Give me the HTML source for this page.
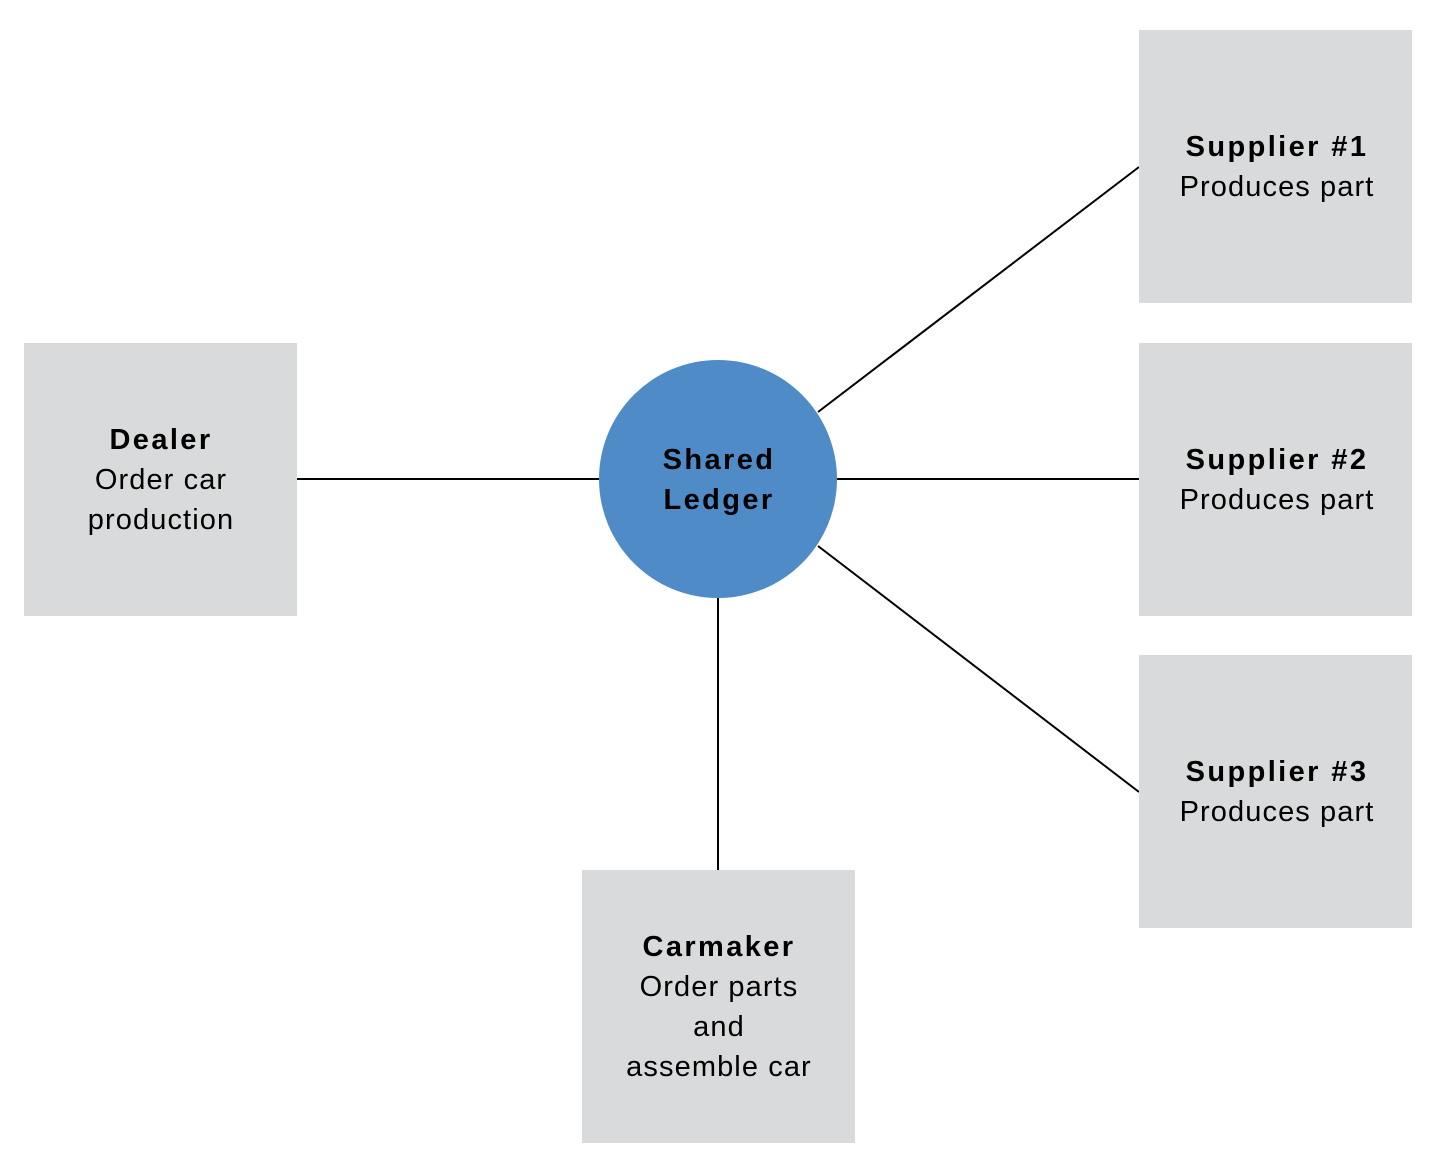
<!DOCTYPE html>
<html><head><meta charset="utf-8"><style>
html,body{margin:0;padding:0;background:#fff;}
</style></head><body>
<svg width="1436" height="1173" xmlns="http://www.w3.org/2000/svg" style="display:block">
<rect width="1436" height="1173" fill="#fff"/>
<g stroke="#000" stroke-width="2">
<line x1="297" y1="479" x2="600" y2="479"/>
<line x1="836" y1="479" x2="1145" y2="479"/>
<line x1="818" y1="412" x2="1139" y2="167"/>
<line x1="818" y1="546" x2="1139" y2="792"/>
<line x1="718" y1="597" x2="718" y2="870"/>
</g>
<g fill="#d9dadb">
<rect x="24" y="343" width="273" height="273"/>
<rect x="1139" y="30" width="273" height="273"/>
<rect x="1139" y="343" width="273" height="273"/>
<rect x="1139" y="655" width="273" height="273"/>
<rect x="582" y="870" width="273" height="273"/>
</g>
<circle cx="718" cy="479" r="119" fill="#4f8cc7"/>
<g font-family="Liberation Sans, sans-serif" font-size="29" text-anchor="middle" fill="#000" letter-spacing="1.1">
<text x="719" y="469" font-weight="bold" letter-spacing="2.4">Shared</text>
<text x="719" y="509" font-weight="bold" letter-spacing="2.4">Ledger</text>
<text x="161" y="449" font-weight="bold" letter-spacing="2.4">Dealer</text>
<text x="161" y="489">Order car</text>
<text x="161" y="529">production</text>
<text x="1277" y="156" font-weight="bold" letter-spacing="2.4">Supplier #1</text>
<text x="1277" y="196">Produces part</text>
<text x="1277" y="469" font-weight="bold" letter-spacing="2.4">Supplier #2</text>
<text x="1277" y="509">Produces part</text>
<text x="1277" y="781" font-weight="bold" letter-spacing="2.4">Supplier #3</text>
<text x="1277" y="821">Produces part</text>
<text x="719" y="956" font-weight="bold" letter-spacing="2.4">Carmaker</text>
<text x="719" y="996">Order parts</text>
<text x="719" y="1036">and</text>
<text x="719" y="1076">assemble car</text>
</g>
</svg>
</body></html>
